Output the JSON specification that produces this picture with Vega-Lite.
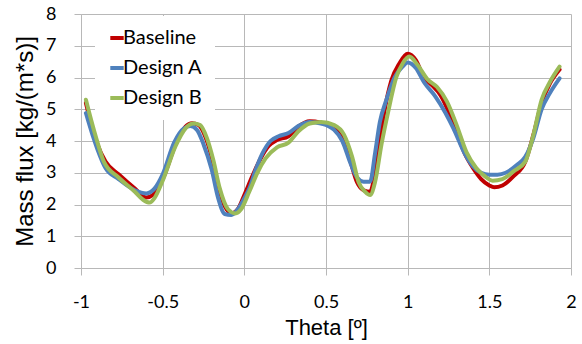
{
  "$schema": "https://vega.github.io/schema/vega-lite/v6.json",
  "width": 490,
  "height": 254,
  "autosize": {"type": "none"},
  "padding": {"left": 81, "top": 14, "right": 11, "bottom": 76},
  "background": "white",
  "config": {
    "view": {"stroke": null},
    "font": "Lato",
    "axis": {
      "gridColor": "#b8b8b8",
      "gridWidth": 1,
      "domainColor": "#b8b8b8",
      "tickColor": "#b8b8b8",
      "tickSize": 7,
      "labelFont": "Lato",
      "labelFontSize": 18,
      "labelColor": "#000000",
      "titleFont": "Liberation Sans",
      "titleFontWeight": "normal",
      "titleColor": "#000000"
    }
  },
  "data": {
    "values": [
      {"s": "Baseline", "x": -0.97, "y": 5.2},
      {"s": "Baseline", "x": -0.93, "y": 4.4},
      {"s": "Baseline", "x": -0.9, "y": 3.9},
      {"s": "Baseline", "x": -0.85, "y": 3.35},
      {"s": "Baseline", "x": -0.77, "y": 2.95},
      {"s": "Baseline", "x": -0.67, "y": 2.5},
      {"s": "Baseline", "x": -0.6, "y": 2.22},
      {"s": "Baseline", "x": -0.56, "y": 2.3},
      {"s": "Baseline", "x": -0.5, "y": 2.8},
      {"s": "Baseline", "x": -0.42, "y": 3.9},
      {"s": "Baseline", "x": -0.36, "y": 4.45},
      {"s": "Baseline", "x": -0.32, "y": 4.56},
      {"s": "Baseline", "x": -0.28, "y": 4.5},
      {"s": "Baseline", "x": -0.24, "y": 4.15},
      {"s": "Baseline", "x": -0.2, "y": 3.5},
      {"s": "Baseline", "x": -0.16, "y": 2.6},
      {"s": "Baseline", "x": -0.12, "y": 1.95},
      {"s": "Baseline", "x": -0.075, "y": 1.72},
      {"s": "Baseline", "x": -0.04, "y": 1.85},
      {"s": "Baseline", "x": 0.0, "y": 2.3},
      {"s": "Baseline", "x": 0.05, "y": 2.9},
      {"s": "Baseline", "x": 0.1, "y": 3.45},
      {"s": "Baseline", "x": 0.15, "y": 3.85},
      {"s": "Baseline", "x": 0.2, "y": 4.03},
      {"s": "Baseline", "x": 0.27, "y": 4.15},
      {"s": "Baseline", "x": 0.33, "y": 4.45},
      {"s": "Baseline", "x": 0.4, "y": 4.62},
      {"s": "Baseline", "x": 0.47, "y": 4.58},
      {"s": "Baseline", "x": 0.55, "y": 4.45},
      {"s": "Baseline", "x": 0.6, "y": 4.1},
      {"s": "Baseline", "x": 0.65, "y": 3.35},
      {"s": "Baseline", "x": 0.69, "y": 2.7},
      {"s": "Baseline", "x": 0.73, "y": 2.45},
      {"s": "Baseline", "x": 0.77, "y": 2.4},
      {"s": "Baseline", "x": 0.8, "y": 3.0},
      {"s": "Baseline", "x": 0.83, "y": 4.0},
      {"s": "Baseline", "x": 0.86, "y": 5.0},
      {"s": "Baseline", "x": 0.9, "y": 5.9},
      {"s": "Baseline", "x": 0.95, "y": 6.45},
      {"s": "Baseline", "x": 1.0, "y": 6.75},
      {"s": "Baseline", "x": 1.05, "y": 6.55},
      {"s": "Baseline", "x": 1.1, "y": 6.0},
      {"s": "Baseline", "x": 1.15, "y": 5.75},
      {"s": "Baseline", "x": 1.2, "y": 5.45},
      {"s": "Baseline", "x": 1.26, "y": 4.8},
      {"s": "Baseline", "x": 1.3, "y": 4.25},
      {"s": "Baseline", "x": 1.35, "y": 3.6},
      {"s": "Baseline", "x": 1.4, "y": 3.15},
      {"s": "Baseline", "x": 1.45, "y": 2.8},
      {"s": "Baseline", "x": 1.5, "y": 2.6},
      {"s": "Baseline", "x": 1.53, "y": 2.54},
      {"s": "Baseline", "x": 1.58, "y": 2.6},
      {"s": "Baseline", "x": 1.65, "y": 2.9},
      {"s": "Baseline", "x": 1.72, "y": 3.35},
      {"s": "Baseline", "x": 1.77, "y": 4.2},
      {"s": "Baseline", "x": 1.82, "y": 5.2},
      {"s": "Baseline", "x": 1.87, "y": 5.8},
      {"s": "Baseline", "x": 1.93, "y": 6.25},

      {"s": "Design A", "x": -0.97, "y": 4.88},
      {"s": "Design A", "x": -0.93, "y": 4.2},
      {"s": "Design A", "x": -0.9, "y": 3.75},
      {"s": "Design A", "x": -0.85, "y": 3.15},
      {"s": "Design A", "x": -0.77, "y": 2.8},
      {"s": "Design A", "x": -0.67, "y": 2.45},
      {"s": "Design A", "x": -0.6, "y": 2.35},
      {"s": "Design A", "x": -0.55, "y": 2.5},
      {"s": "Design A", "x": -0.5, "y": 2.95},
      {"s": "Design A", "x": -0.43, "y": 3.95},
      {"s": "Design A", "x": -0.37, "y": 4.4},
      {"s": "Design A", "x": -0.33, "y": 4.47},
      {"s": "Design A", "x": -0.29, "y": 4.35},
      {"s": "Design A", "x": -0.25, "y": 3.9},
      {"s": "Design A", "x": -0.2, "y": 3.1},
      {"s": "Design A", "x": -0.16, "y": 2.2},
      {"s": "Design A", "x": -0.12, "y": 1.7},
      {"s": "Design A", "x": -0.08, "y": 1.67},
      {"s": "Design A", "x": -0.04, "y": 1.85},
      {"s": "Design A", "x": 0.0, "y": 2.2},
      {"s": "Design A", "x": 0.03, "y": 2.5},
      {"s": "Design A", "x": 0.07, "y": 3.1},
      {"s": "Design A", "x": 0.11, "y": 3.6},
      {"s": "Design A", "x": 0.16, "y": 4.0},
      {"s": "Design A", "x": 0.21, "y": 4.15},
      {"s": "Design A", "x": 0.27, "y": 4.25},
      {"s": "Design A", "x": 0.33, "y": 4.47},
      {"s": "Design A", "x": 0.4, "y": 4.6},
      {"s": "Design A", "x": 0.47, "y": 4.55},
      {"s": "Design A", "x": 0.55, "y": 4.35},
      {"s": "Design A", "x": 0.6, "y": 4.0},
      {"s": "Design A", "x": 0.65, "y": 3.3},
      {"s": "Design A", "x": 0.69, "y": 2.85},
      {"s": "Design A", "x": 0.73, "y": 2.72},
      {"s": "Design A", "x": 0.77, "y": 2.72},
      {"s": "Design A", "x": 0.8, "y": 3.6},
      {"s": "Design A", "x": 0.83, "y": 4.6},
      {"s": "Design A", "x": 0.87, "y": 5.3},
      {"s": "Design A", "x": 0.92, "y": 6.0},
      {"s": "Design A", "x": 0.97, "y": 6.35},
      {"s": "Design A", "x": 1.0, "y": 6.47},
      {"s": "Design A", "x": 1.05, "y": 6.3},
      {"s": "Design A", "x": 1.1, "y": 5.85},
      {"s": "Design A", "x": 1.17, "y": 5.4},
      {"s": "Design A", "x": 1.23, "y": 4.9},
      {"s": "Design A", "x": 1.28, "y": 4.4},
      {"s": "Design A", "x": 1.35, "y": 3.6},
      {"s": "Design A", "x": 1.4, "y": 3.2},
      {"s": "Design A", "x": 1.45, "y": 3.0},
      {"s": "Design A", "x": 1.5, "y": 2.94},
      {"s": "Design A", "x": 1.55, "y": 2.94},
      {"s": "Design A", "x": 1.6, "y": 3.0},
      {"s": "Design A", "x": 1.67, "y": 3.25},
      {"s": "Design A", "x": 1.72, "y": 3.5},
      {"s": "Design A", "x": 1.77, "y": 4.1},
      {"s": "Design A", "x": 1.82, "y": 5.0},
      {"s": "Design A", "x": 1.87, "y": 5.5},
      {"s": "Design A", "x": 1.93, "y": 5.97},

      {"s": "Design B", "x": -0.97, "y": 5.3},
      {"s": "Design B", "x": -0.95, "y": 4.9},
      {"s": "Design B", "x": -0.91, "y": 4.15},
      {"s": "Design B", "x": -0.86, "y": 3.35},
      {"s": "Design B", "x": -0.77, "y": 2.85},
      {"s": "Design B", "x": -0.67, "y": 2.4},
      {"s": "Design B", "x": -0.62, "y": 2.15},
      {"s": "Design B", "x": -0.58, "y": 2.06},
      {"s": "Design B", "x": -0.55, "y": 2.2},
      {"s": "Design B", "x": -0.5, "y": 2.75},
      {"s": "Design B", "x": -0.42, "y": 3.85},
      {"s": "Design B", "x": -0.36, "y": 4.4},
      {"s": "Design B", "x": -0.31, "y": 4.55},
      {"s": "Design B", "x": -0.27, "y": 4.5},
      {"s": "Design B", "x": -0.23, "y": 4.1},
      {"s": "Design B", "x": -0.19, "y": 3.4},
      {"s": "Design B", "x": -0.15, "y": 2.5},
      {"s": "Design B", "x": -0.1, "y": 1.85},
      {"s": "Design B", "x": -0.055, "y": 1.72},
      {"s": "Design B", "x": -0.02, "y": 1.85},
      {"s": "Design B", "x": 0.03, "y": 2.4},
      {"s": "Design B", "x": 0.08, "y": 3.0},
      {"s": "Design B", "x": 0.13, "y": 3.45},
      {"s": "Design B", "x": 0.2, "y": 3.8},
      {"s": "Design B", "x": 0.27, "y": 3.95},
      {"s": "Design B", "x": 0.33, "y": 4.3},
      {"s": "Design B", "x": 0.4, "y": 4.55},
      {"s": "Design B", "x": 0.47, "y": 4.6},
      {"s": "Design B", "x": 0.55, "y": 4.5},
      {"s": "Design B", "x": 0.61, "y": 4.2},
      {"s": "Design B", "x": 0.66, "y": 3.5},
      {"s": "Design B", "x": 0.7, "y": 2.7},
      {"s": "Design B", "x": 0.74, "y": 2.4},
      {"s": "Design B", "x": 0.77, "y": 2.3},
      {"s": "Design B", "x": 0.8, "y": 2.7},
      {"s": "Design B", "x": 0.84, "y": 3.9},
      {"s": "Design B", "x": 0.88, "y": 4.9},
      {"s": "Design B", "x": 0.93, "y": 6.0},
      {"s": "Design B", "x": 0.97, "y": 6.45},
      {"s": "Design B", "x": 1.01, "y": 6.66},
      {"s": "Design B", "x": 1.06, "y": 6.4},
      {"s": "Design B", "x": 1.12, "y": 5.95},
      {"s": "Design B", "x": 1.18, "y": 5.7},
      {"s": "Design B", "x": 1.24, "y": 5.25},
      {"s": "Design B", "x": 1.3, "y": 4.5},
      {"s": "Design B", "x": 1.36, "y": 3.65},
      {"s": "Design B", "x": 1.42, "y": 3.15},
      {"s": "Design B", "x": 1.47, "y": 2.9},
      {"s": "Design B", "x": 1.52, "y": 2.75},
      {"s": "Design B", "x": 1.58, "y": 2.8},
      {"s": "Design B", "x": 1.65, "y": 3.05},
      {"s": "Design B", "x": 1.72, "y": 3.35},
      {"s": "Design B", "x": 1.77, "y": 4.2},
      {"s": "Design B", "x": 1.82, "y": 5.3},
      {"s": "Design B", "x": 1.87, "y": 5.85},
      {"s": "Design B", "x": 1.93, "y": 6.34}
    ]
  },
  "mark": {"type": "line", "interpolate": "monotone", "strokeWidth": 4, "strokeCap": "round", "strokeJoin": "round"},
  "encoding": {
    "x": {
      "field": "x", "type": "quantitative",
      "scale": {"domain": [-1, 2], "nice": false, "zero": false},
      "axis": {"values": [-1, -0.5, 0, 0.5, 1, 1.5, 2], "labelExpr": "datum.value + ''", "title": "Theta [º]", "titleFontSize": 22, "labelPadding": 18, "titlePadding": 6, "labelFlush": false}
    },
    "y": {
      "field": "y", "type": "quantitative",
      "scale": {"domain": [0, 8], "nice": false},
      "axis": {"values": [0, 1, 2, 3, 4, 5, 6, 7, 8], "title": "Mass flux [kg/(m*s)]", "titleFontSize": 24, "labelPadding": 18, "titlePadding": 8}
    },
    "color": {
      "field": "s", "type": "nominal",
      "scale": {"domain": ["Baseline", "Design A", "Design B"], "range": ["#c00000", "#4f81bd", "#9bbb59"]},
      "legend": {
        "title": null,
        "orient": "none",
        "legendX": 14,
        "legendY": 2,
        "padding": 12,
        "fillColor": "white",
        "symbolType": "stroke",
        "symbolSize": 180,
        "symbolStrokeWidth": 4,
        "symbolOffset": 0,
        "labelOffset": -4,
        "labelFont": "Lato",
        "labelFontSize": 20,
        "labelColor": "#000000",
        "rowPadding": 10,
        "labelLimit": 200
      }
    },
    "order": {"field": "s"}
  }
}
